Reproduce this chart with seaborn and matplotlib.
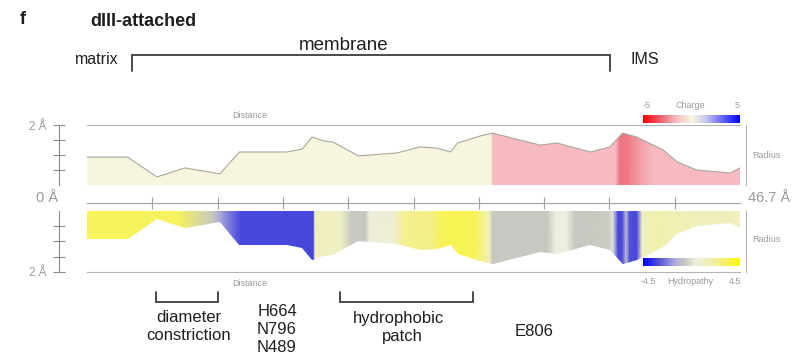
import numpy as np
import matplotlib
matplotlib.use("Agg")
import matplotlib.pyplot as plt
from matplotlib.colors import LinearSegmentedColormap, Normalize
from matplotlib.patches import Polygon
import seaborn as sns

# ---- pore radius profile along the channel axis (Å) ----
distance = [0.0, 2.9, 5.0, 7.0, 9.5, 10.9, 14.3, 15.4, 16.1, 16.9, 17.6, 19.4,
            22.2, 23.8, 25.0, 26.0, 26.5, 28.1, 29.0, 32.4, 33.6, 36.0, 37.4,
            38.3, 39.3, 41.2, 42.2, 43.6, 46.0, 46.7]
radius = [0.93, 0.93, 0.27, 0.57, 0.37, 1.10, 1.10, 1.20, 1.60, 1.47, 1.43, 0.97,
          1.07, 1.27, 1.23, 1.10, 1.40, 1.63, 1.73, 1.33, 1.40, 1.10, 1.27,
          1.73, 1.60, 1.17, 0.77, 0.50, 0.40, 0.57]

# ---- lining charge along the axis ----
charge_pos = [0.0, 28.9, 29.0, 37.8, 38.1, 38.6, 39.6, 40.5, 46.7]
charge = [0.0, 0.0, -1.6, -1.6, -2.8, -2.8, -2.0, -1.6, -1.6]

# ---- lining hydropathy along the axis ----
hydro_pos = [0.0, 6.6, 9.0, 9.7, 11.0, 16.2, 16.3, 18.2, 18.9, 19.9, 20.2, 22.0,
             22.7, 24.7, 25.4, 27.7, 28.8, 29.0, 32.9, 33.5, 34.3, 34.9, 37.3,
             37.6, 38.0, 38.3, 38.55, 38.8, 39.3, 39.7, 40.8, 42.5, 46.7]
hydropathy = [3.3, 3.2, -0.6, -1.8, -3.2, -3.2, 1.5, 1.2, -0.6, -0.6, 0.4, 0.8,
              2.4, 2.6, 3.4, 3.4, 1.4, -0.6, -0.6, 0.3, 0.3, -0.6, -0.5,
              0.0, -3.3, -3.0, -1.0, -3.0, -3.3, 1.4, 1.8, 1.6, 1.4]

total_length = 46.7
n_ticks = 10

# annotations (positions in Å along the axis)
membrane_span = (3.22, 37.4)
constriction_span = (4.93, 9.37)
hydrophobic_span = (18.1, 27.6)

sns.set_theme(style="white")
plt.rcParams["font.family"] = ["Liberation Sans", "DejaVu Sans"]

W, H = 808, 356
fig = plt.figure(figsize=(W / 100, H / 100), dpi=100)


def px(x0, y0, x1, y1):
    return [x0 / W, 1 - y1 / H, (x1 - x0) / W, (y1 - y0) / H]


grey_axis = "#b4b4b4"
grey_text = "#9a9a9a"
dark = "#1e1e1e"

charge_cmap = LinearSegmentedColormap.from_list("charge", [
    (0.0, (1.0, 0.0, 0.0)),
    (0.2, (0.93, 0.42, 0.47)),
    (0.35, (0.965, 0.75, 0.77)),
    (0.5, (0.975, 0.965, 0.87)),
    (0.65, (0.78, 0.78, 0.95)),
    (1.0, (0.0, 0.0, 1.0)),
])
charge_norm = Normalize(-5, 5)

hydro_cmap = LinearSegmentedColormap.from_list("hydropathy", [
    (0.0, (0.0, 0.0, 1.0)),
    (0.1667, (0.33, 0.33, 0.84)),
    (0.333, (0.68, 0.68, 0.88)),
    (0.433, (0.78, 0.785, 0.755)),
    (0.533, (0.93, 0.93, 0.88)),
    (0.667, (0.94, 0.94, 0.74)),
    (0.833, (0.96, 0.945, 0.45)),
    (1.0, (1.0, 0.98, 0.0)),
])
hydro_norm = Normalize(-4.5, 4.5)


def shade_profile(ax, pos, vals, cmap, norm):
    pos = np.asarray(pos, float)
    vals = np.asarray(vals, float)
    X = np.vstack([pos, pos])
    Y = np.vstack([np.zeros_like(pos), np.full_like(pos, 2.0)])
    C = np.vstack([vals, vals])
    mesh = ax.pcolormesh(X, Y, C, cmap=cmap, norm=norm, shading="gouraud",
                         rasterized=True)
    verts = [(distance[0], 0.0)] + list(zip(distance, radius)) + [(distance[-1], 0.0)]
    outline = Polygon(verts, closed=True, transform=ax.transData,
                      facecolor="none", edgecolor="none")
    ax.add_patch(outline)
    mesh.set_clip_path(outline)


def style_radius_axis(ax):
    ax.set_xlim(0, total_length)
    ax.set_yticks([0.5, 1.0, 1.5, 2.0])
    ax.set_yticklabels(["", "", "", "2 Å"])
    ax.tick_params(axis="y", direction="inout", length=8, width=0.8,
                   color="#8c8c8c", labelsize=8.5, labelcolor=grey_text, pad=5,
                   left=True)
    ax.spines["left"].set_position(("outward", 20))
    ax.spines["right"].set_position(("outward", 4))
    for s in ax.spines.values():
        s.set_color(grey_axis)
        s.set_linewidth(0.8)
    ax.spines["left"].set_color("#8c8c8c")
    ax.set_xlabel("")
    ax.set_ylabel("")
    ax.set_facecolor("none")


# ---- upper panel: radius coloured by charge ----
ax_top = fig.add_axes(px(87, 125, 740, 185))
shade_profile(ax_top, charge_pos, charge, charge_cmap, charge_norm)
sns.lineplot(x=distance, y=radius, ax=ax_top, color="#a8a89c", linewidth=0.8)
ax_top.set_ylim(0, 2)
style_radius_axis(ax_top)
ax_top.spines["bottom"].set_position(("outward", 13))
ax_top.spines["bottom"].set_color("#a0a0a0")
ax_top.set_xticks([total_length * k / n_ticks for k in range(1, n_ticks)])
ax_top.set_xticklabels([])
ax_top.tick_params(axis="x", direction="inout", length=8, width=0.8,
                   color="#a0a0a0", bottom=True)

# ---- lower panel: radius (mirrored) coloured by hydropathy ----
ax_bot = fig.add_axes(px(87, 211, 740, 272))
shade_profile(ax_bot, hydro_pos, hydropathy, hydro_cmap, hydro_norm)
ax_bot.set_ylim(2, 0)
style_radius_axis(ax_bot)
ax_bot.spines["top"].set_visible(False)
ax_bot.set_xticks([])

# ---- colour scales ----
grad = np.linspace(0, 1, 256)[None, :]
ax_cc = fig.add_axes(px(643, 115, 740, 123))
ax_cc.imshow(grad, aspect="auto", cmap=charge_cmap, extent=[-5, 5, 0, 1])
ax_cc.set_axis_off()
ax_hc = fig.add_axes(px(643, 258, 740, 266))
ax_hc.imshow(grad, aspect="auto", cmap=hydro_cmap, extent=[-4.5, 4.5, 0, 1])
ax_hc.set_axis_off()

# ---- annotation layer in pixel rows, Å columns ----
ax_ann = fig.add_axes([0, 0, 1, 1], zorder=-1)
scale = total_length / (740 - 87)
ax_ann.set_xlim(-87 * scale, (W - 87) * scale)
ax_ann.set_ylim(H, 0)
ax_ann.set_axis_off()


def xa(px_x):
    return (px_x - 87) * scale


small = dict(fontsize=6.5, color=grey_text, va="center")
ax_ann.text(xa(20), 20, "f", fontsize=13, fontweight="bold", color=dark, ha="left", va="center")
ax_ann.text(xa(90), 22, "dIII-attached", fontsize=13, fontweight="bold", color=dark,
            ha="left", va="center")
ax_ann.text(xa(75), 60, "matrix", fontsize=11.5, color=dark, ha="left", va="center")
ax_ann.text(xa(344), 45, "membrane", fontsize=13.5, color=dark, ha="center", va="center")
ax_ann.text(xa(630), 59, "IMS", fontsize=11.5, color=dark, ha="left", va="center")

lw_b = 1.3
m0, m1 = membrane_span
ax_ann.plot([m0, m0, m1, m1], [71, 55, 55, 71], color="#3c3c3c", lw=lw_b,
            solid_joinstyle="miter")

ax_ann.text(xa(58), 198, "0 Å", fontsize=10.5, color=grey_text, ha="right", va="center")
ax_ann.text(xa(748), 198, "46.7 Å", fontsize=10.5, color=grey_text, ha="left", va="center")
ax_ann.text(xa(250), 116, "Distance", ha="center", **small)
ax_ann.text(xa(250), 283, "Distance", ha="center", **small)
ax_ann.text(xa(752), 155, "Radius", ha="left", **small)
ax_ann.text(xa(752), 240, "Radius", ha="left", **small)

ax_ann.text(xa(647), 105, "-5", ha="center", **small)
ax_ann.text(xa(690), 105, "Charge", ha="center", **small)
ax_ann.text(xa(737), 105, "5", ha="center", **small)
ax_ann.text(xa(648), 281, "-4.5", ha="center", **small)
ax_ann.text(xa(690), 281, "Hydropathy", ha="center", **small)
ax_ann.text(xa(735), 281, "4.5", ha="center", **small)

for a0, a1 in (constriction_span, hydrophobic_span):
    ax_ann.plot([a0, a0, a1, a1], [292, 302, 302, 292], color="#3c3c3c", lw=lw_b,
                solid_joinstyle="miter")

lab = dict(fontsize=12, color=dark, ha="center", va="center")
ax_ann.text(xa(189), 318, "diameter", **lab)
ax_ann.text(xa(189), 336, "constriction", **lab)
ax_ann.text(xa(277), 312, "H664", **lab)
ax_ann.text(xa(277), 329, "N796", **lab)
ax_ann.text(xa(277), 347, "N489", **lab)
ax_ann.text(xa(398), 318, "hydrophobic", **lab)
ax_ann.text(xa(402), 336, "patch", **lab)
ax_ann.text(xa(534), 331, "E806", **lab)

fig.savefig("out.png", dpi=100)
